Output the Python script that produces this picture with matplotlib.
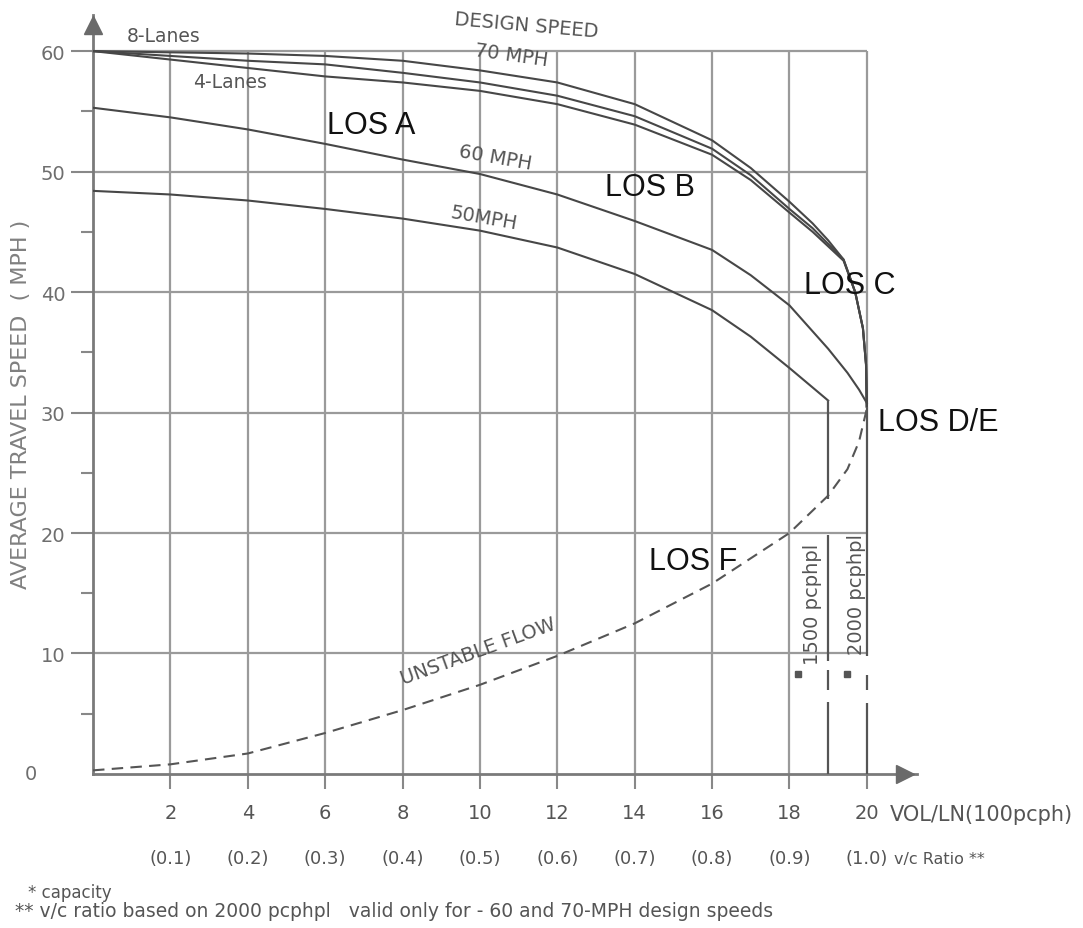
import matplotlib
matplotlib.use("Agg")
import matplotlib.pyplot as plt

# 70 mph design speed curves
x_70 = [0, 2, 4, 6, 8, 10, 12, 14, 16, 17, 18, 18.6, 19, 19.4, 19.7, 19.9, 19.98, 20]
y_8lane = [60, 59.9, 59.8, 59.6, 59.2, 58.4, 57.4, 55.6, 52.6, 50.3, 47.5, 45.7, 44.3, 42.7, 40.0, 37.0, 34.0, 30.5]
y_mid = [60, 59.6, 59.2, 58.9, 58.2, 57.4, 56.3, 54.6, 51.9, 49.7, 46.9, 45.3, 44.0, 42.7, 40.0, 37.0, 34.0, 30.5]
y_4lane = [60, 59.3, 58.6, 57.9, 57.4, 56.7, 55.6, 53.9, 51.4, 49.3, 46.6, 45.0, 43.8, 42.6, 40.0, 37.0, 34.0, 30.5]

# 60 mph design speed
x_60 = [0, 2, 4, 6, 8, 10, 12, 14, 16, 17, 18, 19, 19.5, 19.8, 20]
y_60 = [55.3, 54.5, 53.5, 52.3, 51.0, 49.8, 48.1, 45.9, 43.5, 41.4, 38.9, 35.3, 33.3, 31.9, 30.8]

# 50 mph design speed
x_50 = [0, 2, 4, 6, 8, 10, 12, 14, 16, 17, 18, 19]
y_50 = [48.4, 48.1, 47.6, 46.9, 46.1, 45.1, 43.7, 41.5, 38.5, 36.3, 33.7, 31.0]

# unstable flow (dashed)
x_unst = [0, 2, 4, 6, 8, 10, 12, 14, 16, 18, 19, 19.5, 19.8, 20]
y_unst = [0.3, 0.8, 1.7, 3.4, 5.3, 7.4, 9.8, 12.5, 15.8, 20.0, 23.1, 25.3, 27.6, 30.3]

# capacity lines (x position, segment tops, segment bottoms)
cap_x = [19, 20]
cap_top = [[31.0, 19.8, 8.6, 6.0], [30.5, 8.2, 5.9]]
cap_bot = [[22.8, 9.4, 7.0, 0.0], [9.8, 7.0, 0.0]]
cap_marks_x = [18.23, 19.48]
cap_marks_y = [8.3, 8.3]

x_ticks = [2, 4, 6, 8, 10, 12, 14, 16, 18, 20]
vc_labels = ["(0.1)", "(0.2)", "(0.3)", "(0.4)", "(0.5)", "(0.6)", "(0.7)", "(0.8)", "(0.9)", "(1.0)"]
y_ticks = [10, 20, 30, 40, 50, 60]
y_minor = [5, 15, 25, 35, 45, 55]

GRID = "#9a9a9a"
CURVE = "#474747"
LABEL = "#6e6e6e"

fig = plt.figure(figsize=(10.83, 9.29), dpi=100)
ax = fig.add_axes([0.0859, 0.1658, 0.7609, 0.8170])
ax.set_xlim(0, 21.3)
ax.set_ylim(0, 63)

for s in ["top", "right"]:
    ax.spines[s].set_visible(False)
for s in ["left", "bottom"]:
    ax.spines[s].set_color("#7a7a7a")
    ax.spines[s].set_linewidth(2)

ax.plot(0, 62.2, marker="^", ms=13, color="#6a6a6a", clip_on=False, zorder=5)
ax.plot(21.0, 0, marker=">", ms=13, color="#6a6a6a", clip_on=False, zorder=5)

# grid
ax.vlines(x_ticks[:-1], 0, 60, color=GRID, lw=1.6, zorder=1)
ax.vlines(x_ticks[-1], 30.5, 60, color=GRID, lw=1.6, zorder=1)
ax.hlines(y_ticks, 0, 20, color=GRID, lw=1.6, zorder=1)

# ticks
ax.set_yticks(y_ticks)
ax.set_yticklabels([str(v) for v in y_ticks])
ax.set_yticks(y_minor, minor=True)
ax.tick_params(axis="y", which="major", length=16, width=1.5, color="#888888",
               labelsize=14, labelcolor=LABEL, pad=4)
ax.tick_params(axis="y", which="minor", length=9, width=1.5, color="#888888")
ax.set_xticks(x_ticks)
ax.set_xticklabels([str(v) for v in x_ticks])
ax.tick_params(axis="x", which="major", length=11, width=1.5, color="#888888",
               labelsize=14, labelcolor="#555555", pad=10)
ax.text(-1.6, 0, "0", fontsize=14, color=LABEL, ha="center", va="center")
for xv, lab in zip(x_ticks, vc_labels):
    ax.text(xv, -7.0, lab, fontsize=13, color="#555555", ha="center", va="center", clip_on=False)
ax.text(20.6, -3.3, "VOL/LN(100pcph)", fontsize=15, color="#555555", ha="left", va="center")
ax.text(20.7, -7.0, "v/c Ratio **", fontsize=11.5, color="#555555", ha="left", va="center")
ax.text(-1.85, 30.8, "AVERAGE TRAVEL SPEED  ( MPH )", rotation=90, fontsize=16,
        color="#808080", ha="center", va="center")

# curves
for yy in [y_8lane, y_mid, y_4lane]:
    ax.plot(x_70, yy, color=CURVE, lw=1.5, zorder=3)
ax.plot(x_60, y_60, color=CURVE, lw=1.5, zorder=3)
ax.plot(x_50, y_50, color=CURVE, lw=1.5, zorder=3)
ax.plot(x_unst, y_unst, color="#555555", lw=1.5, dashes=(5.5, 3.5), zorder=3)
for xc, tops, bots in zip(cap_x, cap_top, cap_bot):
    ax.vlines([xc] * len(tops), bots, tops, color="#555555", lw=1.6, zorder=3)
ax.plot(cap_marks_x, cap_marks_y, "s", ms=4, color="#555555", zorder=3)

# hand lettered labels
hand = dict(color="#555555", ha="center", va="center")
ax.text(1.83, 61.3, "8-Lanes", fontsize=13.5, **hand)
ax.text(3.53, 57.5, "4-Lanes", fontsize=13.5, **hand)
ax.text(11.2, 62.2, "DESIGN SPEED", fontsize=14, rotation=-5, **hand)
ax.text(10.8, 59.7, "70 MPH", fontsize=14, rotation=-8, **hand)
ax.text(10.4, 51.2, "60 MPH", fontsize=14, rotation=-10, **hand)
ax.text(10.1, 46.2, "50MPH", fontsize=14, rotation=-10, **hand)
ax.text(9.95, 10.2, "UNSTABLE FLOW", fontsize=14, rotation=20, **hand)
ax.text(18.6, 14.2, "1500 pcphpl", fontsize=14, rotation=90, **hand)
ax.text(19.73, 15.0, "2000 pcphpl", fontsize=14, rotation=90, **hand)

# LOS labels
los = dict(fontsize=22, family=["Liberation Sans", "DejaVu Sans"], color="#111111", va="center")
ax.text(7.2, 53.9, "LOS A", ha="center", **los)
ax.text(14.4, 48.7, "LOS B", ha="center", **los)
ax.text(19.55, 40.6, "LOS C", ha="center", **los)
ax.text(20.3, 29.2, "LOS D/E", ha="left", **los)
ax.text(15.5, 17.7, "LOS F", ha="center", **los)

fig.text(28 / 1083, 1 - 893 / 929, "* capacity", fontsize=12, color="#555555", va="center")
fig.text(15 / 1083, 1 - 912 / 929,
         "** v/c ratio based on 2000 pcphpl   valid only for - 60 and 70-MPH design speeds",
         fontsize=13.5, color="#555555", va="center")

fig.savefig("out.png", dpi=100)
